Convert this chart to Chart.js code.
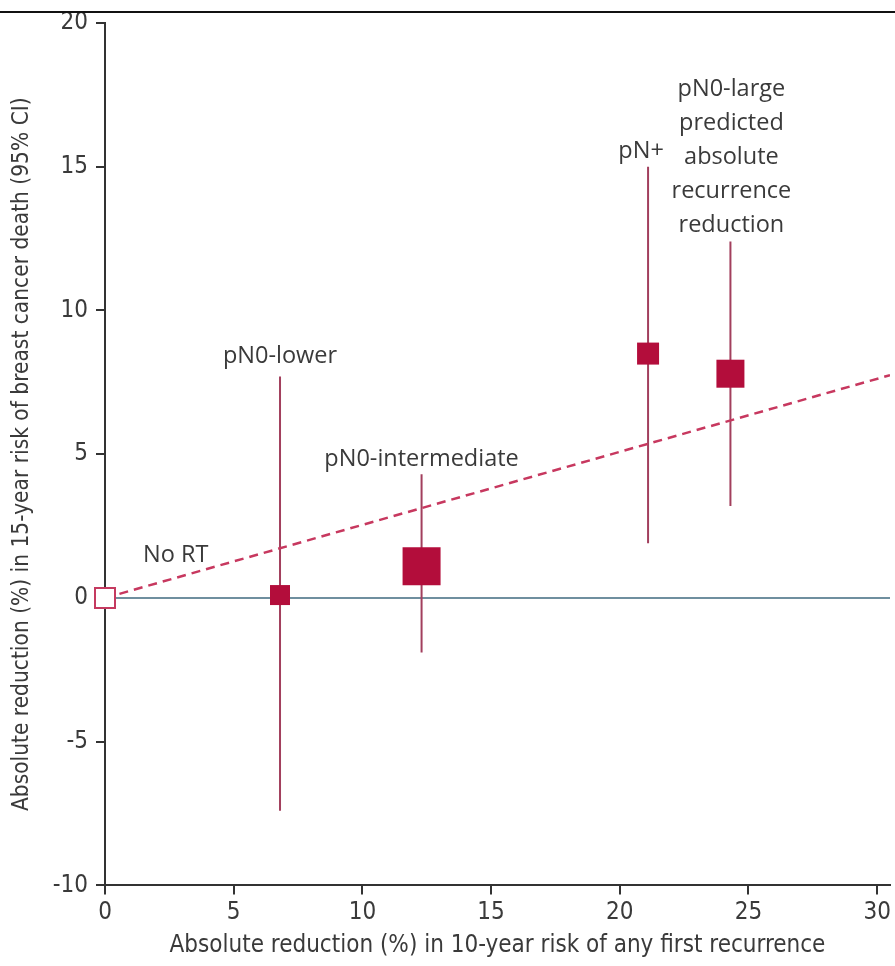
<!DOCTYPE html>
<html>
<head>
<meta charset="utf-8">
<script src="https://cdn.jsdelivr.net/npm/chart.js@4.4.1/dist/chart.umd.min.js"></script>
<style>
  html, body { margin: 0; padding: 0; background: #fff; }
  #wrap { position: relative; width: 895px; height: 966px; }
  #rule { position: absolute; left: 0; top: 11px; width: 895px; height: 2px; background: #111; }
  canvas { position: absolute; left: 0; top: 0; }
</style>
</head>
<body>
<div id="wrap">
  <canvas id="c" width="895" height="966"></canvas>
  <div id="rule"></div>
</div>
<script>
// ---- Data ----
const groups = ['No RT', 'pN0-lower', 'pN0-intermediate', 'pN+', 'pN0-large'];
const groupLabels = [
  ['No RT'],
  ['pN0-lower'],
  ['pN0-intermediate'],
  ['pN+'],
  ['pN0-large', 'predicted', 'absolute', 'recurrence', 'reduction']
];
const recurrenceReduction = [0, 6.8, 12.3, 21.1, 24.3];   // x, %
const deathReduction      = [0, 0.1, 1.1, 8.5, 7.8];      // y, %
const ciLower             = [null, -7.4, -1.9, 1.9, 3.2];
const ciUpper             = [null, 7.7, 4.3, 15.0, 12.4];
const trendX = [0, 30.5];
const trendY = [0, 7.75];
const xTicks = [0, 5, 10, 15, 20, 25, 30];
const yTicks = [-10, -5, 0, 5, 10, 15, 20];

// ---- Styles ----
const RED = '#b30d3b';
const CI_COLOR = '#a23f5d';
const markerSide = [20, 20, 38, 22, 28];
const labelGap = [0, 20, 15, 15, 16];
const labelDx = [38, 0, 0, -7, 1];
const TEXT = '#3a3a3a';
const AXIS = '#333';
const narrow = "'DejaVu Sans Condensed', 'Liberation Sans Narrow', sans-serif";
const labelFont = "'Open Sans', sans-serif";

const datasets = [];
// zero reference line
datasets.push({
  type: 'line',
  data: trendX.map(x => ({ x, y: 0 })),
  borderColor: '#6f8f9f', borderWidth: 2, pointRadius: 0, order: 5
});
// CI lines
groups.forEach((g, i) => {
  if (ciLower[i] === null) return;
  datasets.push({
    type: 'line',
    data: [{ x: recurrenceReduction[i], y: ciLower[i] }, { x: recurrenceReduction[i], y: ciUpper[i] }],
    borderColor: CI_COLOR, borderWidth: 2, pointRadius: 0, order: 4
  });
});
// trend dashed line
datasets.push({
  type: 'line',
  data: trendX.map((x, i) => ({ x, y: trendY[i] })),
  borderColor: '#c7385f', borderWidth: 2.5, borderDash: [9, 6], pointRadius: 0, order: 3
});
// markers
datasets.push({
  type: 'scatter',
  clip: false,
  data: recurrenceReduction.map((x, i) => ({ x, y: deathReduction[i] })),
  pointStyle: 'rect',
  pointRadius: markerSide.map(s => s / (2 * Math.SQRT1_2)),
  pointBackgroundColor: groups.map((g, i) => i === 0 ? '#ffffff' : RED),
  pointBorderColor: groups.map((g, i) => i === 0 ? '#c53a60' : RED),
  pointBorderWidth: groups.map((g, i) => i === 0 ? 2 : 0),
  order: 1
});

const labelPlugin = {
  id: 'labels',
  afterDatasetsDraw(chart) {
    const ctx = chart.ctx;
    const xs = chart.scales.x, ys = chart.scales.y;
    ctx.save();
    ctx.fillStyle = TEXT;
    ctx.font = "23.5px " + labelFont;
    ctx.textBaseline = 'middle';
    const lineH = 34;
    groupLabels.forEach((lines, i) => {
      const px = xs.getPixelForValue(recurrenceReduction[i]);
      if (i === 0) {
        ctx.textAlign = 'left';
        ctx.fillText(lines[0], px + labelDx[i], ys.getPixelForValue(deathReduction[i]) - 43);
        return;
      }
      const top = ys.getPixelForValue(ciUpper[i]);
      ctx.textAlign = 'center';
      lines.forEach((t, k) => {
        const y = top - labelGap[i] - (lines.length - 1 - k) * lineH;
        ctx.fillText(t, px + labelDx[i], y);
      });
    });
    ctx.restore();
  }
};

new Chart(document.getElementById('c'), {
  data: { datasets },
  options: {
    responsive: false,
    animation: false,
    layout: { autoPadding: false, padding: { left: 0, right: 5, top: 23, bottom: 4 } },
    plugins: { legend: { display: false }, tooltip: { enabled: false } },
    scales: {
      x: {
        type: 'linear', min: 0, max: 30.5,
        afterBuildTicks: s => { s.ticks = xTicks.map(v => ({ value: v })); },
        ticks: { includeBounds: false, color: TEXT, font: { family: narrow, size: 24 }, padding: 4, maxRotation: 0 },
        grid: { display: true, drawOnChartArea: false, drawTicks: true, tickLength: 9, color: AXIS, lineWidth: 2 },
        border: { display: true, color: AXIS, width: 2 },
        title: { display: true, text: 'Absolute reduction (%) in 10-year risk of any first recurrence',
                 color: TEXT, font: { family: narrow, size: 24 }, padding: { top: 0, bottom: 2 } }
      },
      y: {
        type: 'linear', min: -10, max: 20,
        afterBuildTicks: s => { s.ticks = yTicks.map(v => ({ value: v })); },
        afterFit: s => { s.width = 105; },
        ticks: { color: TEXT, font: { family: narrow, size: 24 }, padding: 8 },
        grid: { display: true, drawOnChartArea: false, drawTicks: true, tickLength: 9, color: AXIS, lineWidth: 2 },
        border: { display: true, color: AXIS, width: 2 },
        title: { display: true, text: 'Absolute reduction (%) in 15-year risk of breast cancer death (95% CI)',
                 color: TEXT, font: { family: narrow, size: 22.5 }, padding: { top: 9, bottom: 4 } }
      }
    }
  },
  plugins: [labelPlugin]
});
</script>
</body>
</html>
